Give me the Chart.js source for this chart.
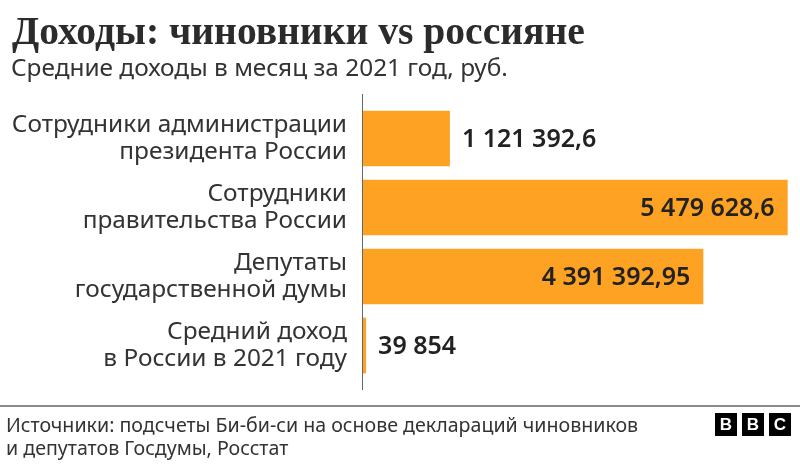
<!DOCTYPE html>
<html lang="ru">
<head>
  <meta charset="UTF-8">
  <title>Доходы: чиновники vs россияне</title>
  <script src="https://cdn.jsdelivr.net/npm/chart.js"></script>
  <style>
    html, body { margin: 0; padding: 0; background: #fff; }
    #wrap { position: relative; width: 800px; height: 467px; overflow: hidden; font-family: "Noto Sans", sans-serif; color: #222; }
    #wrap div { position: absolute; white-space: nowrap; }
    #title { left: 12px; top: 9px; font: bold 39.6px/44px "Liberation Serif", serif; color: #2b2b2b; }
    #subtitle { left: 11px; top: 52px; font-size: 24.4px; line-height: 30px; color: #333; }
    #rule { left: 0; top: 405px; width: 800px; height: 2px; background: #8c8c8c; }
    #source { left: 6px; top: 413px; font-size: 19.6px; line-height: 23px; color: #333; }
    .bbc { top: 413px; width: 22px; height: 23px; background: #000; color: #fff; font: bold 17px/23px "Liberation Sans", sans-serif; text-align: center; }
    canvas { position: absolute; left: 0; top: 0; }
  </style>
</head>
<body>
<div id="wrap">
  <canvas id="incomeChart" width="800" height="467"></canvas>
  <div id="title">Доходы: чиновники vs россияне</div>
  <div id="subtitle">Средние доходы в месяц за 2021 год, руб.</div>
  <div id="rule"></div>
  <div id="source">Источники: подсчеты Би-би-си на основе деклараций чиновников<br>и депутатов Госдумы, Росстат</div>
  <div class="bbc" style="left:715px">B</div>
  <div class="bbc" style="left:742px">B</div>
  <div class="bbc" style="left:769px">C</div>
</div>

<script>
  const categories = [
    ['Сотрудники администрации', 'президента России'],
    ['Сотрудники', 'правительства России'],
    ['Депутаты', 'государственной думы'],
    ['Средний доход', 'в России в 2021 году']
  ];
  const incomes = [1121392.6, 5479628.6, 4391392.95, 39854];
  const incomeLabels = ['1 121 392,6', '5 479 628,6', '4 391 392,95', '39 854'];

  // value labels: inside the bar when it is long enough, otherwise after it
  const valueLabels = {
    id: 'valueLabels',
    afterDatasetsDraw(chart) {
      const ctx = chart.ctx;
      ctx.save();
      ctx.font = '600 25px "Noto Sans"';
      ctx.fillStyle = '#222';
      ctx.textBaseline = 'middle';
      chart.getDatasetMeta(0).data.forEach((bar, i) => {
        const inside = incomes[i] > 2000000;
        ctx.textAlign = inside ? 'right' : 'left';
        ctx.fillText(incomeLabels[i], inside ? bar.x - 13 : bar.x + 12, bar.y + 1);
      });
      ctx.restore();
    }
  };

  // the vertical baseline runs a little past the first and last bands
  const baseline = {
    id: 'baseline',
    afterDatasetsDraw(chart) {
      const ctx = chart.ctx;
      const x = chart.scales.x.getPixelForValue(0);
      ctx.save();
      ctx.strokeStyle = '#666';
      ctx.lineWidth = 1;
      ctx.beginPath();
      ctx.moveTo(x - 0.5, chart.chartArea.top - 10);
      ctx.lineTo(x - 0.5, chart.chartArea.bottom + 10);
      ctx.stroke();
      ctx.restore();
    }
  };

  new Chart(document.getElementById('incomeChart').getContext('2d'), {
    type: 'bar',
    data: {
      labels: categories,
      datasets: [{
        data: incomes,
        backgroundColor: '#fda223',
        barPercentage: 0.806,
        categoryPercentage: 1
      }]
    },
    options: {
      indexAxis: 'y',
      responsive: false,
      animation: false,
      layout: { padding: { top: 104, bottom: 87, right: 3, left: 0 } },
      plugins: { legend: { display: false }, tooltip: { enabled: false } },
      scales: {
        x: { display: false, min: 0, max: 5600000 },
        y: {
          afterFit(scale) { scale.width = 363; },
          grid: { display: false, drawTicks: false },
          border: { display: false },
          ticks: {
            padding: 16,
            color: '#333',
            font: { family: '"Noto Sans"', size: 24.4, lineHeight: 1.07 }
          }
        }
      }
    },
    plugins: [valueLabels, baseline]
  });
</script>
</body>
</html>
